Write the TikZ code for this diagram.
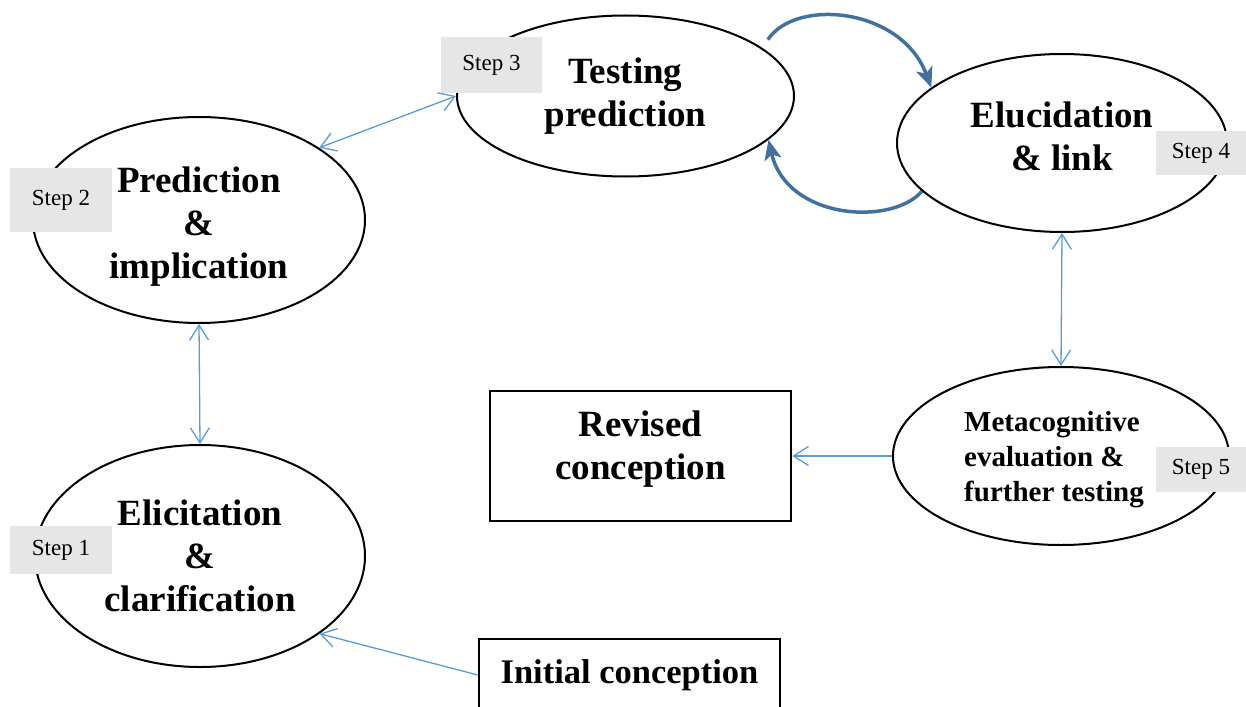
\documentclass[tikz,border=0pt]{standalone}
\usepackage{fontspec}
\setmainfont{Liberation Serif}
\usepackage{xcolor}
\usetikzlibrary{arrows.meta}
\usetikzlibrary{shapes.geometric}
\usetikzlibrary{calc}
\definecolor{linkblue}{RGB}{91,155,213}
\definecolor{cycleblue}{RGB}{65,113,156}
\definecolor{stepgray}{RGB}{230,230,230}
\newcommand{\bigbold}{\fontsize{37}{43}\selectfont\bfseries}
\newcommand{\midbold}{\fontsize{29}{35}\selectfont\bfseries}
\newcommand{\steptext}{\fontsize{23}{27}\selectfont}
\tikzset{
	stage/.style={ellipse, draw, line width=2pt, inner sep=0pt},
	stagetext/.style={inner sep=0pt, align=center, font=\bigbold},
	stepbox/.style={rectangle, fill=stepgray, inner sep=0pt, font=\steptext},
	conceptbox/.style={rectangle, draw, line width=2.5pt, inner sep=0pt, align=center, font=\bigbold},
	linkarrow/.style={linkblue, line width=1.3pt, >={Straight Barb[length=15pt,width=19pt]}},
	cyclearrow/.style={cycleblue, line width=3.5pt, -{Stealth[length=20pt,width=17pt,inset=5pt]}}
}

\begin{document}
\begin{tikzpicture}[x=1pt, y=-1pt]
					\useasboundingbox (0,0) rectangle (1246,706);
					% draw stages
					\node[stage, minimum width=332pt, minimum height=206pt] (s2) at (199,220) {};
					\node[stage, minimum width=330pt, minimum height=222pt] (s1) at (200,556) {};
					\node[stage, minimum width=337pt, minimum height=161pt] (s3) at (625.5,96) {};
					\node[stage, minimum width=330pt, minimum height=178pt] (s4) at (1062,143) {};
					\node[stage, minimum width=336pt, minimum height=178pt] (s5) at (1061,456) {};
					% stage texts
					\node[stagetext] (s2text) at (199,227) {Prediction\\\&\\implication};
					\node[stagetext] (s1text) at (200,556) {Elicitation\\\&\\clarification};
					\node[stagetext] (s3text) at (625.5,96) {Testing\\prediction};
					\node[stagetext] (s4text) at (1062,136) {Elucidation\\\& link};
					\node[stagetext, align=left, font=\midbold] (s5text) at (1054,460) {Metacognitive\\evaluation \&\\further testing};
					% conceptions
					\node[conceptbox, minimum width=301pt, minimum height=130pt] (rev) at (640.5,456) {};
					\node[stagetext] (revtext) at (640.5,449) {Revised\\conception};
					\node[conceptbox, minimum width=301pt, minimum height=72pt, font=\fontsize{34.5}{40}\selectfont\bfseries] (init) at (629.5,675) {Initial conception};
					% add arrows
					\draw[linkarrow, <->] (s2.31) -- (s3.west);
					\draw[linkarrow, <->] (s2.south) -- (s1.north);
					\draw[linkarrow, <->] (s4.south) -- (s5.north);
					\draw[linkarrow, ->] (s5.west) -- (rev.east);
					\draw[linkarrow, ->] (init.west) -- (s1.-33);
					% cycle between step 3 and step 4
					\draw[cyclearrow] ($(s3.24)+(18,-1)$) .. controls +(28,-42) and +(-30,-80) .. (s4.157);
					\draw[cyclearrow] (s4.199) .. controls +(-30,35) and +(18,80) .. (s3.-17);
					% step labels
					\node[stepbox, minimum width=102pt, minimum height=64pt] (t2) at (61,200) {Step 2};
					\node[stepbox, minimum width=102pt, minimum height=48pt] (t1) at (61,550) {Step 1};
					\node[stepbox, minimum width=101pt, minimum height=56pt] (t3) at (491.5,65) {Step 3};
					\node[stepbox, minimum width=90pt, minimum height=44pt] (t4) at (1201,153) {Step 4};
					\node[stepbox, minimum width=90pt, minimum height=45pt] (t5) at (1201,469.5) {Step 5};
				\end{tikzpicture}
\end{document}
